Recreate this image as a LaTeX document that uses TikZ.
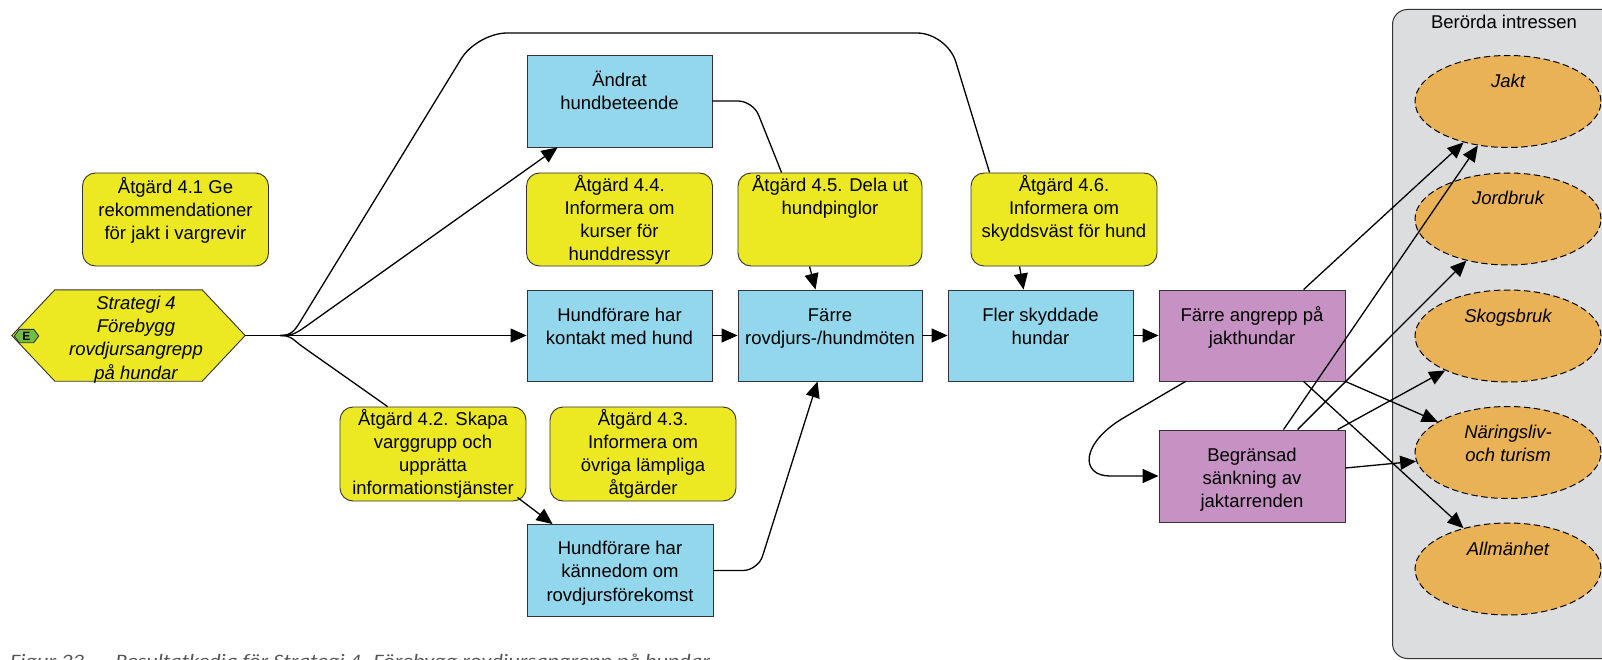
\documentclass[tikz,border=0pt]{standalone}
\usepackage{graphicx}
\usepackage{fontspec}
\setmainfont{Liberation Sans}
\newfontfamily\capfont{Carlito}
\usetikzlibrary{arrows.meta,shapes.geometric,calc}

\definecolor{yel}{HTML}{ECE923}
\definecolor{blu}{HTML}{92D7EC}
\definecolor{pur}{HTML}{C592C3}
\definecolor{ora}{HTML}{E9B257}
\definecolor{pan}{HTML}{DCDDDF}
\definecolor{grn}{HTML}{70BE44}
\definecolor{edgec}{HTML}{333333}
\definecolor{capc}{HTML}{555555}

\newcommand\tl[1]{\begin{tabular}[t]{@{}c@{}}#1\end{tabular}}
\newcommand\btext[3]{\node[txt] at ([yshift=-#2pt]#1.north) {\tl{#3}};}
\newcommand\itext[3]{\node[itxt] at ([yshift=-#2pt]#1.north) {\tl{#3}};}

\tikzset{
  x=1pt, y=-1pt,
  bx/.style={rectangle, draw=edgec, line width=0.9pt, inner sep=0pt},
  bluebox/.style={bx, fill=blu, minimum width=185pt, minimum height=92pt},
  purbox/.style={bx, fill=pur, minimum width=186pt, minimum height=92pt},
  yelbox/.style={bx, fill=yel, rounded corners=13pt, minimum width=186pt, minimum height=93pt},
  intr/.style={ellipse, draw=black, dash pattern=on 6.5pt off 3.5pt, fill=ora, line width=1pt,
               minimum width=186pt, minimum height=92pt, inner sep=0pt},
  txt/.style={anchor=base, inner sep=0pt, font=\fontsize{18.5}{23.3}\selectfont},
  itxt/.style={anchor=base, inner sep=0pt, font=\fontsize{18.5}{23.3}\selectfont\itshape},
  con/.style={line width=1.3pt, black},
  arr/.style={con, -{Triangle[length=16pt,width=14pt]}},
}

\begin{document}
\begin{tikzpicture}
\useasboundingbox (0,0) rectangle (1602,660);
\clip (0,0) rectangle (1602,660);

% panel of interests
\node[draw=edgec, fill=pan, rounded corners=15pt, line width=1pt, minimum width=260pt,
      minimum height=649pt, anchor=north west, inner sep=0pt] (panel) at (1392,9) {};
\node[txt] (paneltitle) at (1504,28.5) {Berörda intressen};

\node[intr] (jakt) at (1508,101.5) {};
\itext{jakt}{32.5}{Jakt}
\node[intr] (jord) at (1508,219) {};
\itext{jord}{32.5}{Jordbruk}
\node[intr] (skog) at (1508,336) {};
\itext{skog}{32.5}{Skogsbruk}
\node[intr] (naring) at (1508,452.5) {};
\itext{naring}{32.5}{Näringsliv-\\och turism}
\node[intr] (allm) at (1508,569) {};
\itext{allm}{32.5}{Allmänhet}

% strategy hexagon
\node[minimum width=233pt, minimum height=91pt, inner sep=0pt] (strat) at (128.5,335.5) {};
\filldraw[fill=yel, draw=edgec, line width=0.9pt]
  (strat.west) -- ([xshift=43pt]strat.north west) -- ([xshift=-43pt]strat.north east)
  -- (strat.east) -- ([xshift=-43pt]strat.south east) -- ([xshift=43pt]strat.south west) -- cycle;
\node[itxt] (strattext) at (136,309.2) {\tl{Strategi 4\\Förebygg\\rovdjursangrepp\\på hundar}};
\node[minimum width=24pt, minimum height=13pt, inner sep=0pt] (emk) at (26.5,336) {};
\filldraw[fill=grn, draw=black!80, line width=0.9pt]
  (emk.west) -- ([xshift=5pt]emk.north west) -- ([xshift=-5pt]emk.north east)
  -- (emk.east) -- ([xshift=-5pt]emk.south east) -- ([xshift=5pt]emk.south west) -- cycle;
\node[inner sep=0pt, font=\bfseries\fontsize{12}{12}\selectfont] (etext) at (26.5,336) {E};

% action boxes
\node[yelbox] (a41) at (175.5,219.5) {};
\btext{a41}{20.5}{Åtgärd 4.1 Ge\\rekommendationer\\för jakt i vargrevir}
\node[yelbox] (a44) at (619.5,219.5) {};
\btext{a44}{18.5}{Åtgärd 4.4.\\Informera om\\kurser för\\hunddressyr}
\node[yelbox, minimum width=184pt] (a45) at (830,219.5) {};
\btext{a45}{18.5}{Åtgärd 4.5. Dela ut\\hundpinglor}
\node[yelbox] (a46) at (1064,219.5) {};
\btext{a46}{18.5}{Åtgärd 4.6.\\Informera om\\skyddsväst för hund}
\node[yelbox, minimum height=94pt] (a42) at (433,454) {};
\btext{a42}{18.5}{Åtgärd 4.2. Skapa\\varggrupp och\\upprätta\\informationstjänster}
\node[yelbox, minimum height=94pt] (a43) at (643,454) {};
\btext{a43}{18.5}{Åtgärd 4.3.\\Informera om\\övriga lämpliga\\åtgärder}

% outcome boxes
\node[bluebox] (ndr) at (619.5,101) {};
\btext{ndr}{31.5}{Ändrat\\hundbeteende}
\node[bluebox, minimum height=91pt] (kontakt) at (619.5,335.5) {};
\btext{kontakt}{31.5}{Hundförare har\\kontakt med hund}
\node[bluebox, minimum width=184pt, minimum height=91pt] (farre) at (830,335.5) {};
\btext{farre}{31.5}{Färre\\rovdjurs-/hundmöten}
\node[bluebox, minimum height=91pt] (fler) at (1040.5,335.5) {};
\btext{fler}{31.5}{Fler skyddade\\hundar}
\node[bluebox, minimum width=186pt] (kann) at (620,570.5) {};
\btext{kann}{30.5}{Hundförare har\\kännedom om\\rovdjursförekomst}
\node[purbox, minimum height=91pt] (angrepp) at (1252,335.5) {};
\btext{angrepp}{31.5}{Färre angrepp på\\jakthundar}
\node[purbox] (begr) at (1252,476) {};
\btext{begr}{31.5}{Begränsad\\sänkning av\\jaktarrenden}

% connectors
\coordinate (j) at (280,335.5);
\draw[arr] (strat.east) -- (kontakt.west);
\draw[arr] (j) .. controls +(12,0) and +(-10,7) .. (305,327) -- ([xshift=31pt]ndr.south west);
\draw[con] (j) .. controls +(10,0) and +(-6,10) .. (300,322)
  [rounded corners=30pt] -- (477,33) -- (947,33) -- ([xshift=19pt]a46.north west);
\draw[con] (j) .. controls +(12,0) and +(-10,-7) .. (303,347) -- ([xshift=48pt]a42.north west);
\draw[con, rounded corners=15pt] (ndr.east) -- (753,101) -- ([xshift=44pt]a45.north west);
\draw[arr] ([xshift=72pt]a45.south west) -- ([xshift=78pt]farre.north west);
\draw[arr] ([xshift=49pt]a46.south west) -- ([xshift=76pt]fler.north west);
\draw[arr] (kontakt) -- (farre);
\draw[arr] (farre) -- (fler);
\draw[arr] (fler) -- (angrepp);
\draw[arr] ([xshift=-9pt,yshift=4pt]a42.south east) -- ([xshift=26pt]kann.north west);
\draw[arr, rounded corners=15pt] (kann.east) -- (758,570.5) -- ([xshift=80pt]farre.south west);
\draw[arr] ([xshift=27pt]angrepp.south west) -- (1125,417)
  .. controls (1080,443) and (1080,476) .. (1110,476) -- (begr.west);
\draw[arr] ([xshift=145pt]angrepp.north west) -- (jakt);
\draw[arr] (angrepp.south east) -- (naring);
\draw[arr] ([xshift=145pt]angrepp.south west) -- (allm);
\draw[arr] ([xshift=125pt]begr.north west) -- (jakt);
\draw[arr] ([xshift=139pt]begr.north west) -- (jord);
\draw[arr] ([xshift=179pt]begr.north west) -- (skog);
\draw[arr] ([yshift=8pt]begr.east) -- (naring);

% caption (cut off by the lower edge, as in the reference)
\node[anchor=base west, inner sep=0pt, text=capc] (caption) at (10,667)
  {\resizebox{700pt}{\height}{\capfont\itshape\fontsize{19}{22}\selectfont Figur 23 \ – \ Resultatkedja för Strategi 4. Förebygg rovdjursangrepp på hundar}};
\end{tikzpicture}
\end{document}
